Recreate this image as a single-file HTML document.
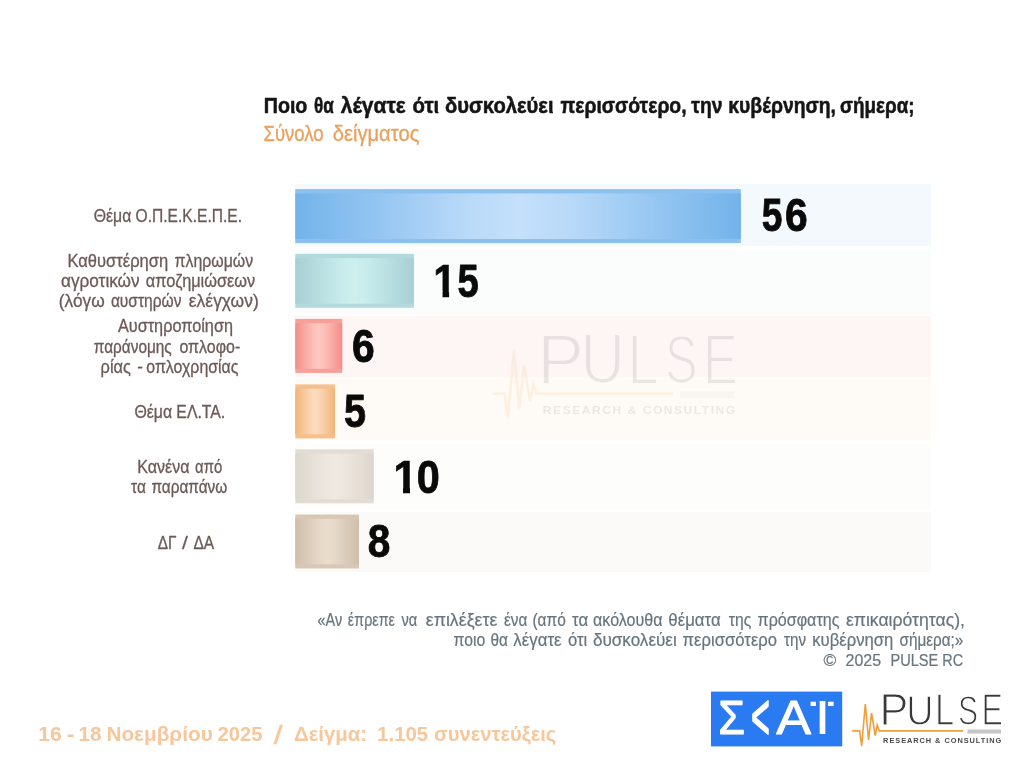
<!DOCTYPE html>
<html lang="el"><head><meta charset="utf-8"><title>Pulse RC</title>
<style>
html,body{margin:0;padding:0;background:#fff;}
body{width:1024px;height:768px;overflow:hidden;}
svg{display:block;}
text{font-family:"Liberation Sans",sans-serif;white-space:pre;}
</style></head><body>
<svg width="1024" height="768" viewBox="0 0 1024 768">
<defs>
<linearGradient id="g1" x1="0" x2="1" y1="0" y2="0"><stop offset="0" stop-color="#72b3ea"/><stop offset="0.2" stop-color="#97c7f2"/><stop offset="0.38" stop-color="#b8d9f8"/><stop offset="0.5" stop-color="#c4e0fb"/><stop offset="0.62" stop-color="#b8d9f8"/><stop offset="0.8" stop-color="#97c7f2"/><stop offset="1" stop-color="#72b3ea"/></linearGradient>
<linearGradient id="g2" x1="0" x2="1" y1="0" y2="0"><stop offset="0" stop-color="#a6d0d5"/><stop offset="0.2" stop-color="#b8dee1"/><stop offset="0.38" stop-color="#c7ebeb"/><stop offset="0.5" stop-color="#cdf0ef"/><stop offset="0.62" stop-color="#c7ebeb"/><stop offset="0.8" stop-color="#b8dee1"/><stop offset="1" stop-color="#a6d0d5"/></linearGradient>
<linearGradient id="g3" x1="0" x2="1" y1="0" y2="0"><stop offset="0" stop-color="#f48d88"/><stop offset="0.2" stop-color="#f8a8a2"/><stop offset="0.38" stop-color="#fcbfb8"/><stop offset="0.5" stop-color="#fdc8c1"/><stop offset="0.62" stop-color="#fcbfb8"/><stop offset="0.8" stop-color="#f8a8a2"/><stop offset="1" stop-color="#f48d88"/></linearGradient>
<linearGradient id="g4" x1="0" x2="1" y1="0" y2="0"><stop offset="0" stop-color="#f2b479"/><stop offset="0.2" stop-color="#f6c698"/><stop offset="0.38" stop-color="#fad6b3"/><stop offset="0.5" stop-color="#fbdcbd"/><stop offset="0.62" stop-color="#fad6b3"/><stop offset="0.8" stop-color="#f6c698"/><stop offset="1" stop-color="#f2b479"/></linearGradient>
<linearGradient id="g5" x1="0" x2="1" y1="0" y2="0"><stop offset="0" stop-color="#ddd6cd"/><stop offset="0.2" stop-color="#e5dfd6"/><stop offset="0.38" stop-color="#ece6de"/><stop offset="0.5" stop-color="#efe9e1"/><stop offset="0.62" stop-color="#ece6de"/><stop offset="0.8" stop-color="#e5dfd6"/><stop offset="1" stop-color="#ddd6cd"/></linearGradient>
<linearGradient id="g6" x1="0" x2="1" y1="0" y2="0"><stop offset="0" stop-color="#cfbeac"/><stop offset="0.2" stop-color="#dbccba"/><stop offset="0.38" stop-color="#e6d8c7"/><stop offset="0.5" stop-color="#eaddcc"/><stop offset="0.62" stop-color="#e6d8c7"/><stop offset="0.8" stop-color="#dbccba"/><stop offset="1" stop-color="#cfbeac"/></linearGradient>
</defs>
<rect width="1024" height="768" fill="#ffffff"/>

<rect x="295" y="184" width="636" height="62" fill="#f4f9fd"/>
<rect x="295" y="250" width="636" height="64" fill="#fbfdfd"/>
<rect x="295" y="316" width="636" height="61" fill="#fdf6f5"/>
<rect x="295" y="377" width="636" height="63" fill="#fefaf5"/>
<rect x="295" y="444" width="636" height="66" fill="#fdfdfc"/>
<rect x="295" y="512" width="636" height="60" fill="#fcfaf8"/>
<rect x="295.3" y="189.1" width="445.5" height="54" fill="#8bc0ef"/>
<rect x="295.3" y="193.4" width="445.5" height="45.6" fill="url(#g1)"/>
<rect x="295.3" y="253.8" width="118.6" height="54" fill="#b2dadd"/>
<rect x="295.3" y="258.1" width="118.6" height="45.6" fill="url(#g2)"/>
<rect x="295.3" y="318.9" width="46.9" height="54" fill="#f79f99"/>
<rect x="295.3" y="323.2" width="46.9" height="45.6" fill="url(#g3)"/>
<rect x="295.3" y="384.4" width="39.7" height="54" fill="#f5c08d"/>
<rect x="295.3" y="388.7" width="39.7" height="45.6" fill="url(#g4)"/>
<rect x="295.3" y="449.3" width="78.4" height="54" fill="#e2dcd3"/>
<rect x="295.3" y="453.6" width="78.4" height="45.6" fill="url(#g5)"/>
<rect x="295.3" y="514.5" width="63.7" height="54" fill="#d7c7b6"/>
<rect x="295.3" y="518.8" width="63.7" height="45.6" fill="url(#g6)"/>
<clipPath id="c1"><rect x="0" y="-76" width="38.4" height="63"/><rect x="22.4" y="-13.1" width="16" height="15"/></clipPath>
<text transform="translate(761.78,231.13) scale(0.3719,0.4659)" font-size="100" font-weight="700" fill="#0a0a0a" stroke="#0a0a0a" stroke-width="1.92" stroke-linejoin="round">5</text>
<text transform="translate(785.07,231.13) scale(0.4083,0.4678)" font-size="100" font-weight="700" fill="#0a0a0a" stroke="#0a0a0a" stroke-width="1.83" stroke-linejoin="round">6</text>
<text transform="translate(433.34,297.12) scale(0.4127,0.4663)" font-size="100" font-weight="700" fill="#0a0a0a" stroke="#0a0a0a" stroke-width="1.2" clip-path="url(#c1)">1</text>
<text transform="translate(457.45,296.53) scale(0.3819,0.4659)" font-size="100" font-weight="700" fill="#0a0a0a" stroke="#0a0a0a" stroke-width="1.90" stroke-linejoin="round">5</text>
<text transform="translate(351.97,361.83) scale(0.4083,0.4693)" font-size="100" font-weight="700" fill="#0a0a0a" stroke="#0a0a0a" stroke-width="1.83" stroke-linejoin="round">6</text>
<text transform="translate(344.01,426.83) scale(0.3960,0.4688)" font-size="100" font-weight="700" fill="#0a0a0a" stroke="#0a0a0a" stroke-width="1.86" stroke-linejoin="round">5</text>
<text transform="translate(393.18,493.12) scale(0.4381,0.4677)" font-size="100" font-weight="700" fill="#0a0a0a" stroke="#0a0a0a" stroke-width="1.2" clip-path="url(#c1)">1</text>
<text transform="translate(416.84,492.53) scale(0.4147,0.4693)" font-size="100" font-weight="700" fill="#0a0a0a" stroke="#0a0a0a" stroke-width="1.81" stroke-linejoin="round">0</text>
<text transform="translate(367.68,557.44) scale(0.4061,0.4636)" font-size="100" font-weight="700" fill="#0a0a0a" stroke="#0a0a0a" stroke-width="1.84" stroke-linejoin="round">8</text>
<text transform="translate(263.67,112.90) scale(0.8791,1)" font-size="22.4" font-weight="700" fill="#151515" stroke="#151515" stroke-width="0.53" stroke-linejoin="round">Ποιο</text>
<text transform="translate(313.92,112.90) scale(0.7633,1)" font-size="22.4" font-weight="700" fill="#151515" stroke="#151515" stroke-width="0.57" stroke-linejoin="round">θα</text>
<text transform="translate(340.75,112.90) scale(0.9357,1)" font-size="22.4" font-weight="700" fill="#151515" stroke="#151515" stroke-width="0.52" stroke-linejoin="round">λέγατε</text>
<text transform="translate(412.53,112.90) scale(0.9110,1)" font-size="22.4" font-weight="700" fill="#151515" stroke="#151515" stroke-width="0.52" stroke-linejoin="round">ότι</text>
<text transform="translate(444.99,112.90) scale(0.9021,1)" font-size="22.4" font-weight="700" fill="#151515" stroke="#151515" stroke-width="0.53" stroke-linejoin="round">δυσκολεύει</text>
<text transform="translate(560.46,112.90) scale(0.8647,1)" font-size="22.4" font-weight="700" fill="#151515" stroke="#151515" stroke-width="0.54" stroke-linejoin="round">περισσότερο,</text>
<text transform="translate(691.36,112.90) scale(0.8614,1)" font-size="22.4" font-weight="700" fill="#151515" stroke="#151515" stroke-width="0.54" stroke-linejoin="round">την</text>
<text transform="translate(728.29,112.90) scale(0.8653,1)" font-size="22.4" font-weight="700" fill="#151515" stroke="#151515" stroke-width="0.54" stroke-linejoin="round">κυβέρνηση,</text>
<text transform="translate(840.09,112.90) scale(0.8431,1)" font-size="22.4" font-weight="700" fill="#151515" stroke="#151515" stroke-width="0.54" stroke-linejoin="round">σήμερα;</text>
<text transform="translate(263.47,140.50) scale(0.8291,1)" font-size="22.4" font-weight="400" fill="#e9a05c" stroke="#e9a05c" stroke-width="0.33" stroke-linejoin="round">Σύνολο</text>
<text transform="translate(332.79,140.50) scale(0.8992,1)" font-size="22.4" font-weight="400" fill="#e9a05c" stroke="#e9a05c" stroke-width="0.32" stroke-linejoin="round">δείγματος</text>
<text transform="translate(93.70,222.20) scale(0.8686,1)" font-size="18.2" font-weight="400" fill="#6d5a57" stroke="#6d5a57" stroke-width="0.32" stroke-linejoin="round">Θέμα</text>
<text transform="translate(135.51,222.20) scale(0.8565,1)" font-size="18.2" font-weight="400" fill="#6d5a57" stroke="#6d5a57" stroke-width="0.32" stroke-linejoin="round">Ο.Π.Ε.Κ.Ε.Π.Ε.</text>
<text transform="translate(67.49,266.80) scale(0.9091,1)" font-size="18.2" font-weight="400" fill="#6d5a57" stroke="#6d5a57" stroke-width="0.31" stroke-linejoin="round">Καθυστέρηση</text>
<text transform="translate(174.55,266.80) scale(0.8719,1)" font-size="18.2" font-weight="400" fill="#6d5a57" stroke="#6d5a57" stroke-width="0.32" stroke-linejoin="round">πληρωμών</text>
<text transform="translate(61.02,287.00) scale(0.9437,1)" font-size="18.2" font-weight="400" fill="#6d5a57" stroke="#6d5a57" stroke-width="0.31" stroke-linejoin="round">αγροτικών</text>
<text transform="translate(145.76,287.00) scale(0.8964,1)" font-size="18.2" font-weight="400" fill="#6d5a57" stroke="#6d5a57" stroke-width="0.32" stroke-linejoin="round">αποζημιώσεων</text>
<text transform="translate(58.87,306.60) scale(0.9493,1)" font-size="18.2" font-weight="400" fill="#6d5a57" stroke="#6d5a57" stroke-width="0.31" stroke-linejoin="round">(λόγω</text>
<text transform="translate(110.89,306.60) scale(0.8545,1)" font-size="18.2" font-weight="400" fill="#6d5a57" stroke="#6d5a57" stroke-width="0.32" stroke-linejoin="round">αυστηρών</text>
<text transform="translate(188.84,306.60) scale(0.9590,1)" font-size="18.2" font-weight="400" fill="#6d5a57" stroke="#6d5a57" stroke-width="0.31" stroke-linejoin="round">ελέγχων)</text>
<text transform="translate(117.91,332.40) scale(0.8943,1)" font-size="18.2" font-weight="400" fill="#6d5a57" stroke="#6d5a57" stroke-width="0.32" stroke-linejoin="round">Αυστηροποίηση</text>
<text transform="translate(93.87,352.60) scale(0.8442,1)" font-size="18.2" font-weight="400" fill="#6d5a57" stroke="#6d5a57" stroke-width="0.33" stroke-linejoin="round">παράνομης</text>
<text transform="translate(179.47,352.60) scale(0.8762,1)" font-size="18.2" font-weight="400" fill="#6d5a57" stroke="#6d5a57" stroke-width="0.32" stroke-linejoin="round">οπλοφο-</text>
<text transform="translate(100.58,372.70) scale(0.9004,1)" font-size="18.2" font-weight="400" fill="#6d5a57" stroke="#6d5a57" stroke-width="0.32" stroke-linejoin="round">ρίας</text>
<text transform="translate(137.18,372.70) scale(0.9419,1)" font-size="18.2" font-weight="400" fill="#6d5a57" stroke="#6d5a57" stroke-width="0.31" stroke-linejoin="round">-</text>
<text transform="translate(146.27,372.70) scale(0.8747,1)" font-size="18.2" font-weight="400" fill="#6d5a57" stroke="#6d5a57" stroke-width="0.32" stroke-linejoin="round">οπλοχρησίας</text>
<text transform="translate(134.39,417.90) scale(0.8734,1)" font-size="18.2" font-weight="400" fill="#6d5a57" stroke="#6d5a57" stroke-width="0.32" stroke-linejoin="round">Θέμα</text>
<text transform="translate(176.35,417.90) scale(0.8686,1)" font-size="18.2" font-weight="400" fill="#6d5a57" stroke="#6d5a57" stroke-width="0.32" stroke-linejoin="round">ΕΛ.ΤΑ.</text>
<text transform="translate(137.22,472.50) scale(0.8851,1)" font-size="18.2" font-weight="400" fill="#6d5a57" stroke="#6d5a57" stroke-width="0.32" stroke-linejoin="round">Κανένα</text>
<text transform="translate(195.12,472.50) scale(0.8179,1)" font-size="18.2" font-weight="400" fill="#6d5a57" stroke="#6d5a57" stroke-width="0.33" stroke-linejoin="round">από</text>
<text transform="translate(131.12,492.60) scale(0.8467,1)" font-size="18.2" font-weight="400" fill="#6d5a57" stroke="#6d5a57" stroke-width="0.33" stroke-linejoin="round">τα</text>
<text transform="translate(151.47,492.60) scale(0.8450,1)" font-size="18.2" font-weight="400" fill="#6d5a57" stroke="#6d5a57" stroke-width="0.33" stroke-linejoin="round">παραπάνω</text>
<text transform="translate(157.79,548.50) scale(0.8455,1)" font-size="18.2" font-weight="400" fill="#6d5a57" stroke="#6d5a57" stroke-width="0.33" stroke-linejoin="round">ΔΓ</text>
<text transform="translate(182.05,548.50) scale(1.1682,1)" font-size="18.2" font-weight="400" fill="#6d5a57" stroke="#6d5a57" stroke-width="0.28" stroke-linejoin="round">/</text>
<text transform="translate(193.43,548.50) scale(0.8542,1)" font-size="18.2" font-weight="400" fill="#6d5a57" stroke="#6d5a57" stroke-width="0.32" stroke-linejoin="round">ΔΑ</text>
<text transform="translate(317.42,625.90) scale(0.8286,1)" font-size="17.5" font-weight="400" fill="#67757f" stroke="#67757f" stroke-width="0.22" stroke-linejoin="round">«Αν</text>
<text transform="translate(347.85,625.90) scale(0.8200,1)" font-size="17.5" font-weight="400" fill="#67757f" stroke="#67757f" stroke-width="0.22" stroke-linejoin="round">έπρεπε</text>
<text transform="translate(401.50,625.90) scale(0.8381,1)" font-size="17.5" font-weight="400" fill="#67757f" stroke="#67757f" stroke-width="0.22" stroke-linejoin="round">να</text>
<text transform="translate(425.73,625.90) scale(1.0166,1)" font-size="17.5" font-weight="400" fill="#67757f" stroke="#67757f" stroke-width="0.20" stroke-linejoin="round">επιλέξετε</text>
<text transform="translate(503.96,625.90) scale(0.8767,1)" font-size="17.5" font-weight="400" fill="#67757f" stroke="#67757f" stroke-width="0.21" stroke-linejoin="round">ένα</text>
<text transform="translate(532.43,625.90) scale(0.8853,1)" font-size="17.5" font-weight="400" fill="#67757f" stroke="#67757f" stroke-width="0.21" stroke-linejoin="round">(από</text>
<text transform="translate(572.05,625.90) scale(0.9617,1)" font-size="17.5" font-weight="400" fill="#67757f" stroke="#67757f" stroke-width="0.20" stroke-linejoin="round">τα</text>
<text transform="translate(593.02,625.90) scale(0.9199,1)" font-size="17.5" font-weight="400" fill="#67757f" stroke="#67757f" stroke-width="0.21" stroke-linejoin="round">ακόλουθα</text>
<text transform="translate(668.32,625.90) scale(0.9602,1)" font-size="17.5" font-weight="400" fill="#67757f" stroke="#67757f" stroke-width="0.20" stroke-linejoin="round">θέματα</text>
<text transform="translate(728.77,625.90) scale(0.8937,1)" font-size="17.5" font-weight="400" fill="#67757f" stroke="#67757f" stroke-width="0.21" stroke-linejoin="round">της</text>
<text transform="translate(757.60,625.90) scale(0.9188,1)" font-size="17.5" font-weight="400" fill="#67757f" stroke="#67757f" stroke-width="0.21" stroke-linejoin="round">πρόσφατης</text>
<text transform="translate(845.88,625.90) scale(1.0076,1)" font-size="17.5" font-weight="400" fill="#67757f" stroke="#67757f" stroke-width="0.20" stroke-linejoin="round">επικαιρότητας),</text>
<text transform="translate(453.61,645.70) scale(0.9019,1)" font-size="17.5" font-weight="400" fill="#67757f" stroke="#67757f" stroke-width="0.21" stroke-linejoin="round">ποιο</text>
<text transform="translate(490.39,645.70) scale(0.8795,1)" font-size="17.5" font-weight="400" fill="#67757f" stroke="#67757f" stroke-width="0.21" stroke-linejoin="round">θα</text>
<text transform="translate(513.37,645.70) scale(0.9626,1)" font-size="17.5" font-weight="400" fill="#67757f" stroke="#67757f" stroke-width="0.20" stroke-linejoin="round">λέγατε</text>
<text transform="translate(567.99,645.70) scale(0.9511,1)" font-size="17.5" font-weight="400" fill="#67757f" stroke="#67757f" stroke-width="0.21" stroke-linejoin="round">ότι</text>
<text transform="translate(592.97,645.70) scale(0.9762,1)" font-size="17.5" font-weight="400" fill="#67757f" stroke="#67757f" stroke-width="0.20" stroke-linejoin="round">δυσκολεύει</text>
<text transform="translate(682.57,645.70) scale(0.9537,1)" font-size="17.5" font-weight="400" fill="#67757f" stroke="#67757f" stroke-width="0.20" stroke-linejoin="round">περισσότερο</text>
<text transform="translate(783.97,645.70) scale(0.8669,1)" font-size="17.5" font-weight="400" fill="#67757f" stroke="#67757f" stroke-width="0.21" stroke-linejoin="round">την</text>
<text transform="translate(812.27,645.70) scale(0.9534,1)" font-size="17.5" font-weight="400" fill="#67757f" stroke="#67757f" stroke-width="0.20" stroke-linejoin="round">κυβέρνηση</text>
<text transform="translate(899.45,645.70) scale(0.8741,1)" font-size="17.5" font-weight="400" fill="#67757f" stroke="#67757f" stroke-width="0.21" stroke-linejoin="round">σήμερα;»</text>
<text transform="translate(823.44,666.10) scale(0.9991,1)" font-size="17.4" font-weight="400" fill="#67757f" stroke="#67757f" stroke-width="0.20" stroke-linejoin="round">©</text>
<text transform="translate(845.55,666.10) scale(0.9203,1)" font-size="17.4" font-weight="400" fill="#67757f" stroke="#67757f" stroke-width="0.21" stroke-linejoin="round">2025</text>
<text transform="translate(890.50,666.10) scale(0.8361,1)" font-size="17.4" font-weight="400" fill="#67757f" stroke="#67757f" stroke-width="0.22" stroke-linejoin="round">PULSE</text>
<text transform="translate(942.31,666.10) scale(0.8285,1)" font-size="17.4" font-weight="400" fill="#67757f" stroke="#67757f" stroke-width="0.22" stroke-linejoin="round">RC</text>
<text transform="translate(38.18,740.90) scale(1.0951,1)" font-size="19.3" font-weight="700" fill="#f7c69a">16</text>
<text transform="translate(66.68,740.90) scale(1.1902,1)" font-size="19.3" font-weight="700" fill="#f7c69a">-</text>
<text transform="translate(78.41,740.90) scale(1.0719,1)" font-size="19.3" font-weight="700" fill="#f7c69a">18</text>
<text transform="translate(106.40,740.90) scale(1.0771,1)" font-size="19.3" font-weight="700" fill="#f7c69a">Νοεμβρίου</text>
<text transform="translate(217.59,740.90) scale(1.0483,1)" font-size="19.3" font-weight="700" fill="#f7c69a">2025</text>
<text transform="translate(293.98,740.90) scale(1.0565,1)" font-size="19.3" font-weight="700" fill="#f7c69a">Δείγμα:</text>
<text transform="translate(377.12,740.90) scale(1.0588,1)" font-size="19.3" font-weight="700" fill="#f7c69a">1.105</text>
<text transform="translate(433.99,740.90) scale(1.0432,1)" font-size="19.3" font-weight="700" fill="#f7c69a">συνεντεύξεις</text>
<text transform="translate(273.85,744.09) scale(0.3171,0.2599)" font-size="100" font-weight="400" fill="#f7c69a" stroke="#f7c69a" stroke-width="1.74" stroke-linejoin="round">/</text>
<rect x="711" y="691.6" width="131.2" height="54.8" fill="#2a7af2"/>
<g aria-label="ΣΚΑΪ">
<text transform="translate(718.27,734.05) scale(0.4341,0.4815)" font-size="100" font-weight="400" fill="#fff" stroke="#fff" stroke-width="1.97" stroke-linejoin="round">Σ</text>
<text transform="translate(751.27,738.55) scale(0.3155,0.6404)" font-size="100" font-weight="400" fill="#fff" stroke="#fff" stroke-width="3.34" stroke-linejoin="round">&lt;</text>
<text transform="translate(776.22,733.85) scale(0.5223,0.4887)" font-size="100" font-weight="400" fill="#fff" stroke="#fff" stroke-width="1.78" stroke-linejoin="round">Α</text>
<text transform="translate(814.30,734.30) scale(0.5946,0.4742)" font-size="100" font-weight="400" fill="#fff">Ι</text>
<rect x="810.6" y="701.7" width="5.3" height="4.3" fill="#fff"/><rect x="828" y="701.7" width="5.6" height="4.3" fill="#fff"/>
</g>
<g transform="translate(0,0) scale(1)" opacity="1">
<polyline points="852.2,730.9 859.6,730.9 861.7,746.0 865.3,704.0 868.6,740.0 871.5,713.0 875.2,735.6 877.2,725.0 879.2,730.9 963,730.9" fill="none" stroke="#f29d3c" stroke-width="1.6" stroke-linejoin="miter"/>
<rect x="967.5" y="729.5" width="33.5" height="4" fill="#c6c6c6"/>
<text transform="translate(879.58,725.00) scale(0.4329,0.4349)" font-size="100" font-weight="400" fill="#383838" stroke="#fff" stroke-width="2.77">P</text>
<text transform="translate(906.22,724.57) scale(0.3780,0.4287)" font-size="100" font-weight="400" fill="#383838" stroke="#fff" stroke-width="2.98">U</text>
<text transform="translate(935.05,725.00) scale(0.3455,0.4349)" font-size="100" font-weight="400" fill="#383838" stroke="#fff" stroke-width="3.10">L</text>
<text transform="translate(958.04,724.58) scale(0.3022,0.4226)" font-size="100" font-weight="400" fill="#383838" stroke="#fff" stroke-width="3.36">S</text>
<text transform="translate(981.50,725.00) scale(0.3217,0.4349)" font-size="100" font-weight="400" fill="#383838" stroke="#fff" stroke-width="3.21">E</text>
<text transform="translate(883.10,743.10) scale(1.0560,1)" font-size="7.0" font-weight="700" fill="#4a4a4a" letter-spacing="0.9">RESEARCH &amp; CONSULTING</text>
</g>
<g transform="translate(-893.9425999999999,-795.4480000000001) scale(1.627)" opacity="0.1">
<polyline points="852.2,730.9 859.6,730.9 861.7,746.0 865.3,704.0 868.6,740.0 871.5,713.0 875.2,735.6 877.2,725.0 879.2,730.9 963,730.9" fill="none" stroke="#f29d3c" stroke-width="1.6" stroke-linejoin="miter"/>
<rect x="967.5" y="729.5" width="33.5" height="4" fill="#c6c6c6"/>
<text transform="translate(879.64,724.95) scale(0.4310,0.4335)" font-size="100" font-weight="400" fill="#383838" stroke="#fdf8f6" stroke-width="2.55">P</text>
<text transform="translate(906.28,724.52) scale(0.3762,0.4272)" font-size="100" font-weight="400" fill="#383838" stroke="#fdf8f6" stroke-width="2.74">U</text>
<text transform="translate(935.12,724.95) scale(0.3432,0.4335)" font-size="100" font-weight="400" fill="#383838" stroke="#fdf8f6" stroke-width="2.85">L</text>
<text transform="translate(958.10,724.53) scale(0.3004,0.4212)" font-size="100" font-weight="400" fill="#383838" stroke="#fdf8f6" stroke-width="3.09">S</text>
<text transform="translate(981.56,724.95) scale(0.3198,0.4335)" font-size="100" font-weight="400" fill="#383838" stroke="#fdf8f6" stroke-width="2.95">E</text>
<text transform="translate(883.10,743.10) scale(1.0560,1)" font-size="7.0" font-weight="700" fill="#4a4a4a" letter-spacing="0.9">RESEARCH &amp; CONSULTING</text>
</g>
</svg></body></html>
